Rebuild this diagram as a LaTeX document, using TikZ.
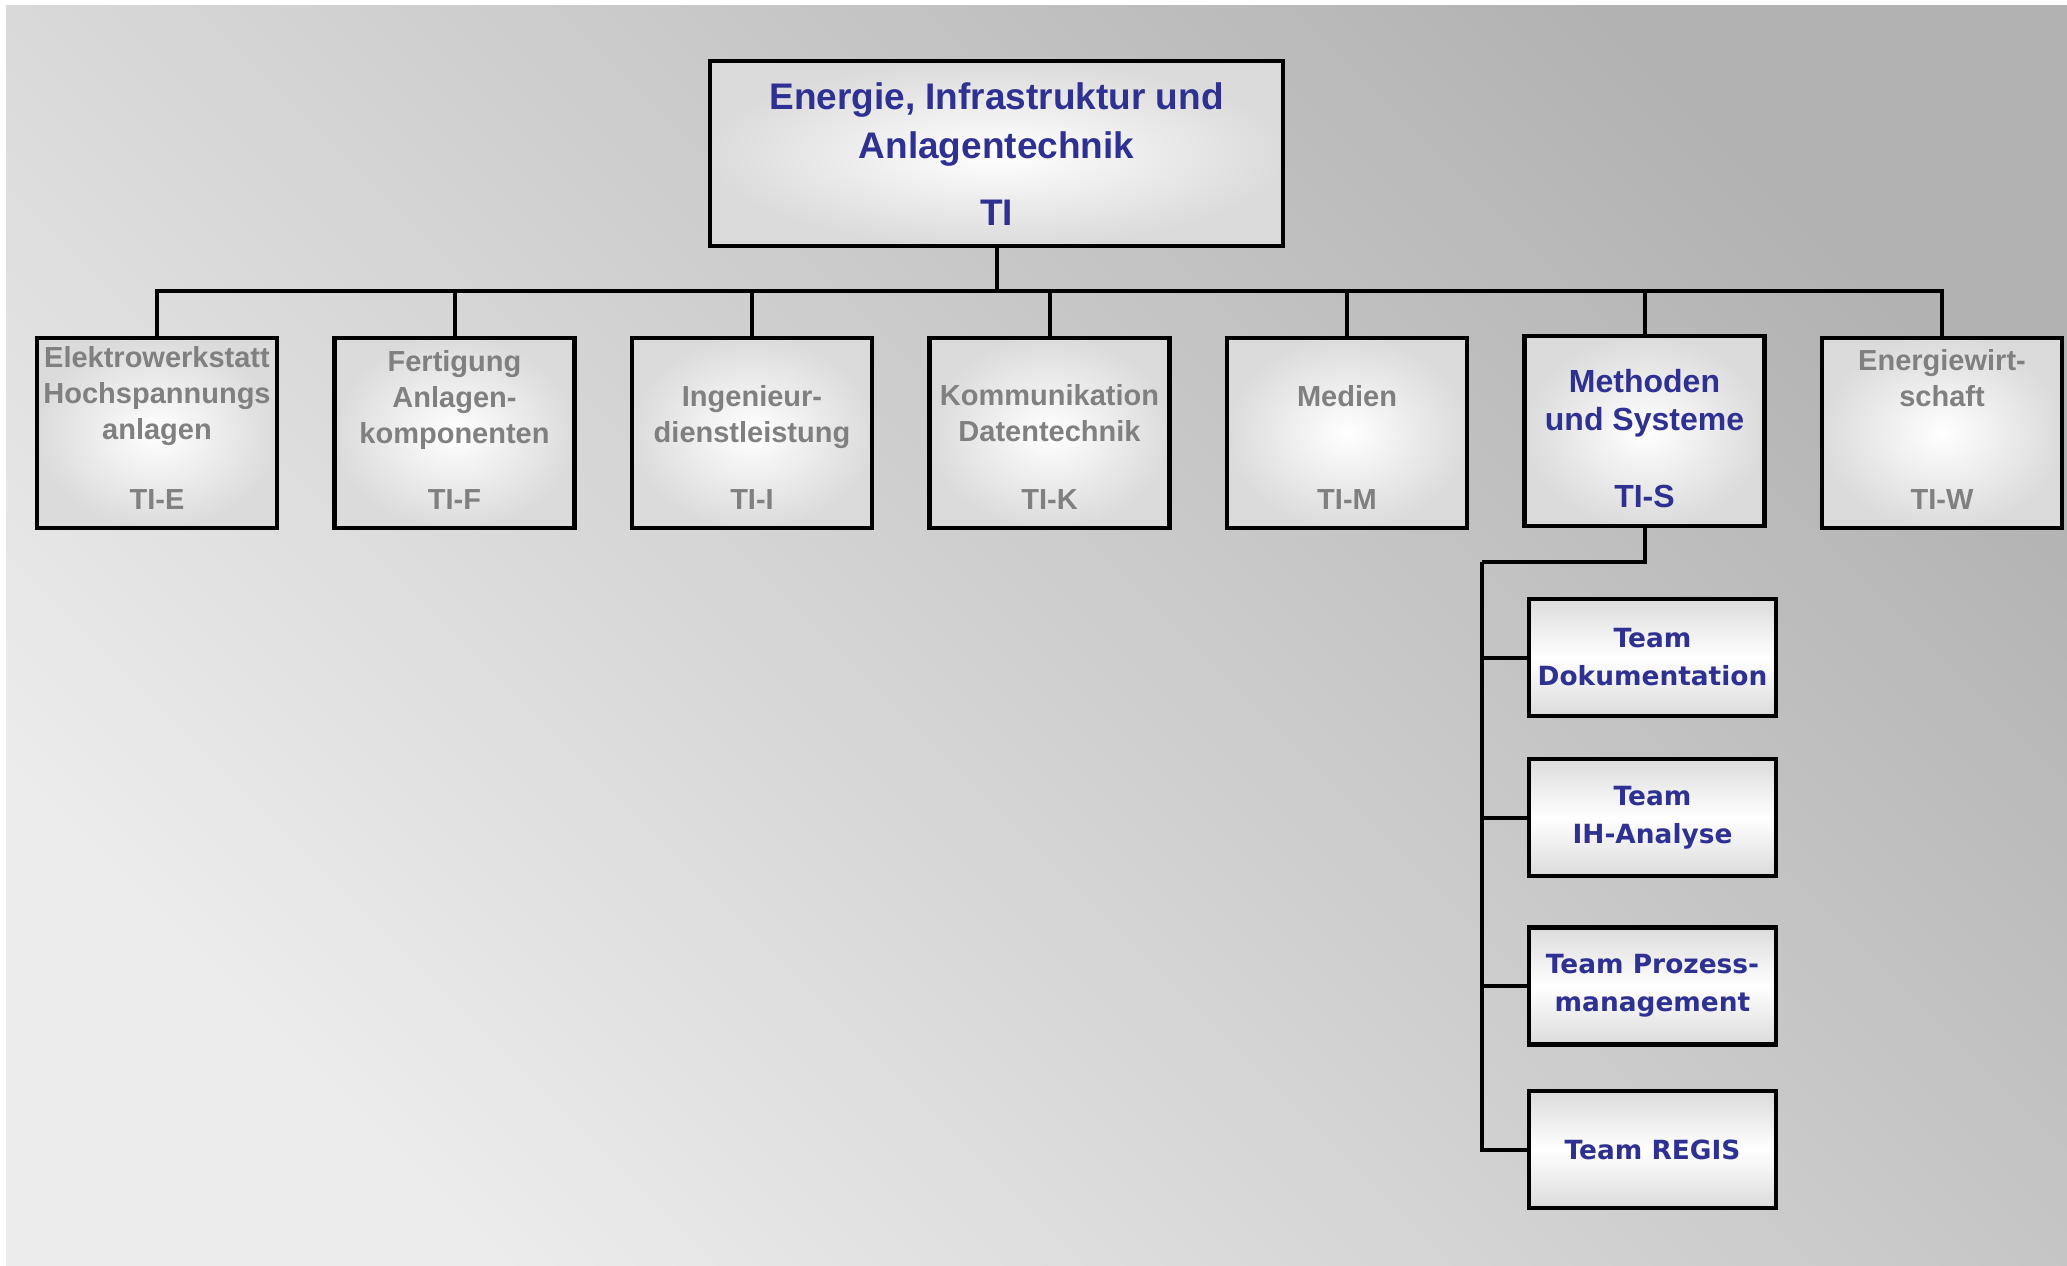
\documentclass[tikz,border=0pt]{standalone}
\usepackage{fontspec}
\setmainfont{Liberation Sans}
\newfontfamily\teamfont{DejaVu Sans}
\usetikzlibrary{positioning}
\definecolor{tiblue}{HTML}{2E3192}
\definecolor{tigrey}{HTML}{808080}

\begin{document}
\begin{tikzpicture}[
  x=0.5pt, y=-0.5pt,
  node distance=26.55pt,
  unit/.style={rectangle, draw=black, line width=2.2pt, inner color=white, outer color=gray!28, minimum width=120pt, minimum height=95pt},
  head/.style={unit, minimum width=286.5pt, minimum height=92.3pt},
  team/.style={rectangle, draw=black, line width=2.2pt, top color=gray!28, bottom color=gray!28, middle color=white, minimum width=123.5pt, minimum height=58.5pt, align=center, text=tiblue, font=\teamfont\bfseries\fontsize{13.2}{19}\selectfont},
  dim/.style={align=center, text=tigrey, font=\bfseries\fontsize{14.5}{17.8}\selectfont, inner sep=0pt},
  act/.style={align=center, text=tiblue, font=\bfseries\fontsize{16}{19}\selectfont, inner sep=0pt},
  big/.style={align=center, text=tiblue, font=\bfseries\fontsize{18.5}{24.5}\selectfont, inner sep=0pt},
  link/.style={line width=2pt},
]

% Background
\fill[white] (0,0) rectangle (2067,1265);
\shade[top color=gray!60, bottom color=gray!15, shading angle=-45] (6,5) rectangle (2067,1265);

% Head
\node[head] (ti) at (996.5,153.5) {};
\node[big] (ti-name) at ([yshift=14.5pt]ti.center) {Energie, Infrastruktur und\\Anlagentechnik};
\node[big] (ti-code) at ([yshift=-29.75pt]ti.center) {TI};

% Units
\node[unit] (tie) at (157,433) {};
\node[unit, right=of tie] (tif) {};
\node[unit, right=of tif] (tii) {};
\node[unit, right=of tii] (tik) {};
\node[unit, right=of tik] (tim) {};
\node[unit, right=of tim, yshift=1pt] (tis) {};
\node[unit, right=of tis, yshift=-1pt] (tiw) {};

\node[dim] (tie-name) at ([yshift=18.5pt]tie.center) {Elektrowerkstatt\\Hochspannungs\\anlagen};
\node[dim] (tif-name) at ([yshift=16.5pt]tif.center) {Fertigung\\Anlagen-\\komponenten};
\node[dim] (tii-name) at ([yshift=8pt]tii.center) {Ingenieur-\\dienstleistung};
\node[dim] (tik-name) at ([yshift=10pt]tik.center) {Kommunikation\\Datentechnik};
\node[dim] (tim-name) at ([yshift=18.5pt]tim.center) {Medien};
\node[act] (tis-name) at ([yshift=14pt]tis.center) {Methoden\\und Systeme};
\node[dim] (tiw-name) at ([yshift=27.5pt]tiw.center) {Energiewirt-\\schaft};

\node[dim] (tie-code) at ([yshift=-33.5pt]tie.center) {TI-E};
\node[dim] (tif-code) at ([yshift=-33.5pt]tif.center) {TI-F};
\node[dim] (tii-code) at ([yshift=-33.5pt]tii.center) {TI-I};
\node[dim] (tik-code) at ([yshift=-33.5pt]tik.center) {TI-K};
\node[dim] (tim-code) at ([yshift=-33.5pt]tim.center) {TI-M};
\node[act] (tis-code) at ([yshift=-32.75pt]tis.center) {TI-S};
\node[dim] (tiw-code) at ([yshift=-33.5pt]tiw.center) {TI-W};

% Teams
\node[team] (doku) at (1652.5,657.5) {Team\\Dokumentation};
\node[team] (ih) at (1652.5,817.5) {Team\\IH-Analyse};
\node[team] (proz) at (1652.5,986) {Team Prozess-\\management};
\node[team] (regis) at (1652.5,1149.5) {Team REGIS};

% Connections
\coordinate (bus) at (996.5,291);
\draw[link] (ti) -- (bus);
\foreach \u in {tie,tif,tii,tik,tim,tis,tiw}
  \draw[link] (bus) -| (\u.north);

\coordinate (sbus) at (1482,562);
\draw[link] (tis.south) |- (sbus);
\foreach \t in {doku,ih,proz,regis}
  \draw[link] (sbus) |- (\t.west);

\end{tikzpicture}
\end{document}
